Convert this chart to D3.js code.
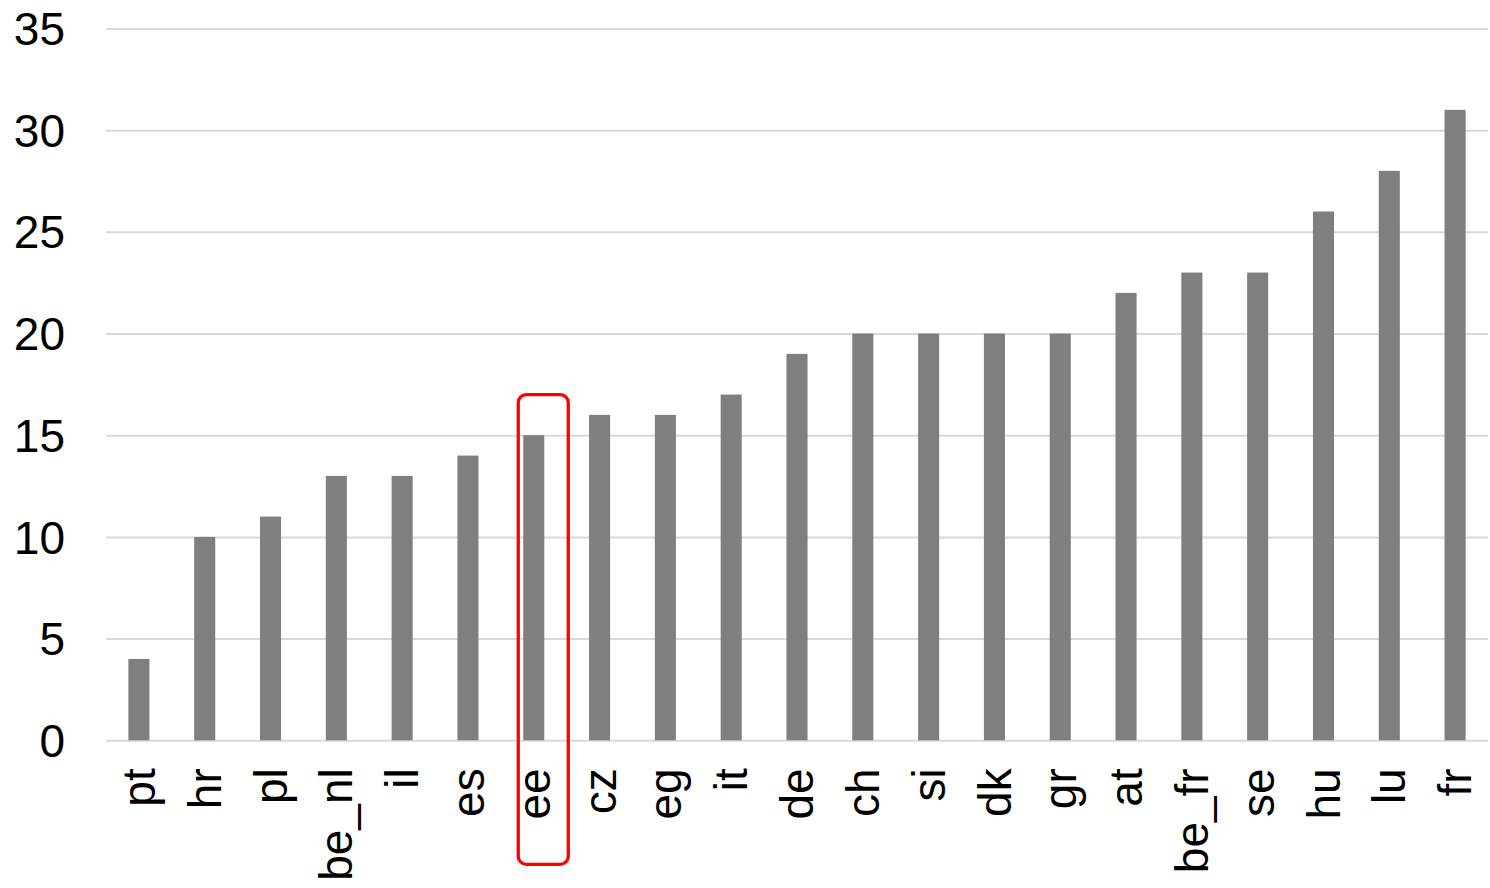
<!DOCTYPE html>
<html lang="en">
<head>
    <meta charset="UTF-8">
    <title>bar chart</title>
    <script src="https://d3js.org/d3.v7.min.js"></script>
    <style>
        body { margin: 0; background: #fff; }
        svg { display: block; font-family: "Liberation Sans", Arial, sans-serif; }
        .grid line { stroke: #d9d9d9; stroke-width: 2; }
        .grid path { display: none; }
        .grid text { font-size: 46px; fill: #000; }
        .xaxis path, .xaxis line { display: none; }
        .xaxis text { font-size: 46px; fill: #000; }
    </style>
</head>
<body>
<script>
    // data
    const categories = ["pt", "hr", "pl", "be_nl", "il", "es", "ee", "cz", "eg", "it", "de",
                        "ch", "si", "dk", "gr", "at", "be_fr", "se", "hu", "lu", "fr"];
    const values = [4, 10, 11, 13, 13, 14, 15, 16, 16, 17, 19,
                    20, 20, 20, 20, 22, 23, 23, 26, 28, 31];
    const yTicks = [0, 5, 10, 15, 20, 25, 30, 35];
    const highlight = "ee";

    const W = 1490, H = 888;
    const plotLeft = 106, plotRight = 1488, plotTop = 28.5, plotBottom = 740.3;

    const svg = d3.select("body").append("svg")
        .attr("width", W)
        .attr("height", H);

    const x = d3.scaleBand()
        .domain(categories)
        .range([plotLeft, plotRight])
        .paddingInner(0.68)
        .paddingOuter(0.34);

    const y = d3.scaleLinear()
        .domain([0, 35])
        .range([plotBottom, plotTop]);

    /* gridlines + y labels */
    const yAxis = d3.axisLeft(y)
        .tickValues(yTicks)
        .tickSize(-(plotRight - plotLeft))
        .tickPadding(41);
    svg.append("g")
        .attr("class", "grid")
        .attr("transform", `translate(${plotLeft},0)`)
        .call(yAxis)
        .selectAll("text")
        .attr("dy", "0.35em");

    /* bars */
    svg.append("g")
        .selectAll("rect")
        .data(categories)
        .enter()
        .append("rect")
        .attr("x", d => x(d))
        .attr("y", (d, i) => y(values[i]))
        .attr("width", x.bandwidth())
        .attr("height", (d, i) => y(0) - y(values[i]))
        .attr("fill", "#7f7f7f");

    /* x labels, rotated */
    const xAxis = d3.axisBottom(x).tickSize(0).tickPadding(0);
    svg.append("g")
        .attr("class", "xaxis")
        .attr("transform", `translate(0,${plotBottom})`)
        .call(xAxis)
        .selectAll("text")
        .attr("text-anchor", "end")
        .attr("transform", "translate(0,28) rotate(-90)")
        .attr("x", 0)
        .attr("y", 0)
        .attr("dy", "0.35em");

    /* red highlight box */
    const xc = x(highlight) + x.bandwidth() / 2;
    svg.append("rect")
        .attr("x", xc - 15.5)
        .attr("y", y(17))
        .attr("width", 50)
        .attr("height", plotBottom + 124 - y(17))
        .attr("rx", 8)
        .attr("ry", 8)
        .attr("fill", "none")
        .attr("stroke", "#ff0000")
        .attr("stroke-width", 3.3);
</script>
</body>
</html>
